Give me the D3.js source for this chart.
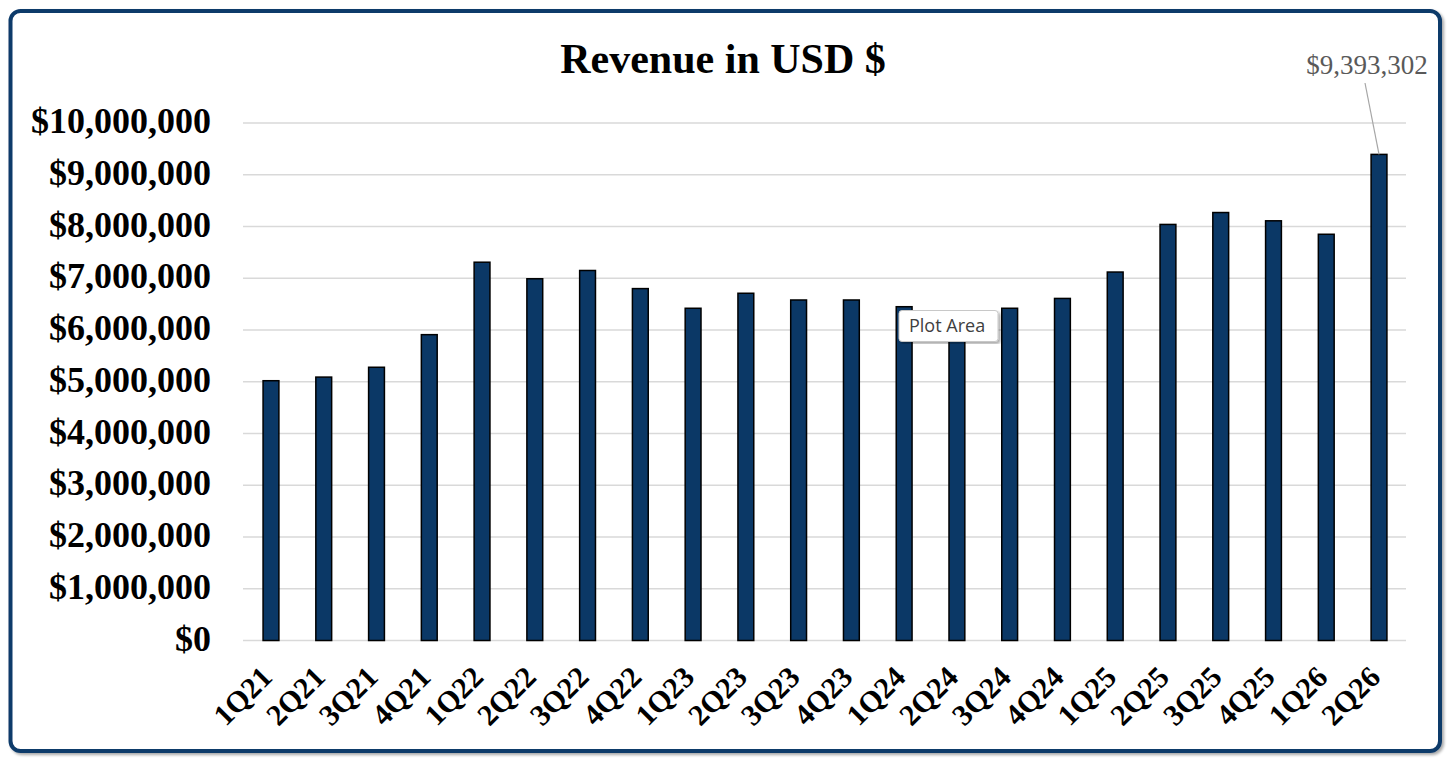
<!DOCTYPE html>
<html>
<head>
<meta charset="utf-8">
<script src="https://cdn.jsdelivr.net/npm/d3@7/dist/d3.min.js"></script>
<style>
  html, body { margin: 0; padding: 0; background: #ffffff; }
  svg { display: block; }
</style>
</head>
<body>
<svg id="chart" width="1456" height="767"></svg>
<script>
const categories = ["1Q21","2Q21","3Q21","4Q21","1Q22","2Q22","3Q22","4Q22","1Q23","2Q23","3Q23","4Q23","1Q24","2Q24","3Q24","4Q24","1Q25","2Q25","3Q25","4Q25","1Q26","2Q26"];
const revenue = [5020000,5090000,5280000,5910000,7310000,6990000,7150000,6800000,6420000,6710000,6580000,6580000,6450000,6200000,6420000,6610000,7120000,8040000,8270000,8110000,7850000,9393302];
const yTicks = [0,1000000,2000000,3000000,4000000,5000000,6000000,7000000,8000000,9000000,10000000];
const chartTitle = "Revenue in USD $";
const labelIndex = 21;
const tooltipText = "Plot Area";

const svg = d3.select("#chart");

// shadow + frame
const defs = svg.append("defs");
const f = defs.append("filter").attr("id","sh").attr("x","-5%").attr("y","-5%").attr("width","110%").attr("height","110%");
f.append("feGaussianBlur").attr("in","SourceAlpha").attr("stdDeviation",1.5);
f.append("feOffset").attr("dx",2).attr("dy",2).attr("result","o");
f.append("feComponentTransfer").append("feFuncA").attr("type","linear").attr("slope",0.35);
const m = f.append("feMerge"); m.append("feMergeNode"); m.append("feMergeNode").attr("in","SourceGraphic");

svg.append("rect").attr("x",10.5).attr("y",11).attr("width",1429.5).attr("height",740)
  .attr("rx",10).attr("ry",10)
  .attr("fill","#ffffff").attr("stroke","#0e3a6a").attr("stroke-width",4)
  .attr("filter","url(#sh)");

const x = d3.scaleBand().domain(categories).range([244.6, 1405.4]).paddingInner(0.7).paddingOuter(0.35);
const y = d3.scaleLinear().domain([0, 10000000]).range([640.5, 123]);

// gridlines
svg.append("g").selectAll("line").data(yTicks).join("line")
  .attr("x1", 243).attr("x2", 1406)
  .attr("y1", d => y(d)).attr("y2", d => y(d))
  .attr("stroke", "#d9d9d9").attr("stroke-width", 1.5);

// y axis labels
const fmt = d => "$" + d3.format(",")(d);
svg.append("g").selectAll("text").data(yTicks).join("text")
  .attr("x", 211).attr("y", d => y(d)).attr("dy", "0.28em")
  .attr("text-anchor", "end")
  .attr("font-family", "'Liberation Serif', 'Times New Roman', serif")
  .attr("font-weight", "bold").attr("font-size", 36).attr("fill", "#000")
  .text(fmt);

// bars
svg.append("g").selectAll("rect").data(revenue).join("rect")
  .attr("x", (d,i) => x(categories[i]))
  .attr("y", d => y(d))
  .attr("width", x.bandwidth())
  .attr("height", d => y(0) - y(d))
  .attr("fill", "#0b3866").attr("stroke", "#000").attr("stroke-width", 1.5);

// x labels
svg.append("g").selectAll("text").data(categories).join("text")
  .attr("transform", d => `translate(${x(d) + x.bandwidth()/2 + 3},${679}) rotate(-45)`)
  .attr("text-anchor", "end")
  .attr("font-family", "'Liberation Serif', 'Times New Roman', serif")
  .attr("font-weight", "bold").attr("font-size", 30).attr("fill", "#000")
  .text(d => d);

// title
svg.append("text").attr("x", 723).attr("y", 72.5).attr("text-anchor", "middle")
  .attr("font-family", "'Liberation Serif', 'Times New Roman', serif")
  .attr("font-weight", "bold").attr("font-size", 42).attr("fill", "#000")
  .text(chartTitle);

// data label with leader line
const lc = categories[labelIndex];
const lx = x(lc) + x.bandwidth()/2;
svg.append("line").attr("x1", 1365).attr("y1", 83).attr("x2", lx).attr("y2", y(revenue[labelIndex]))
  .attr("stroke", "#a6a6a6").attr("stroke-width", 1.2);
svg.append("text").attr("x", 1367).attr("y", 74).attr("text-anchor", "middle")
  .attr("font-family", "'Liberation Serif', 'Times New Roman', serif")
  .attr("font-size", 27).attr("fill", "#595959")
  .text(fmt(revenue[labelIndex]));

// tooltip
const tip = svg.append("g").attr("transform", "translate(899,310.5)");
tip.append("rect").attr("x",0).attr("y",0).attr("width",99).attr("height",31).attr("rx",3)
  .attr("fill","#ffffff").attr("stroke","#c8c8c8").attr("stroke-width",1).attr("filter","url(#sh)");
tip.append("text").attr("x",10).attr("y",21.5).attr("font-family","'Open Sans', 'Noto Sans', sans-serif")
  .attr("font-size",18).attr("fill","#404040").text(tooltipText);
</script>
</body>
</html>
